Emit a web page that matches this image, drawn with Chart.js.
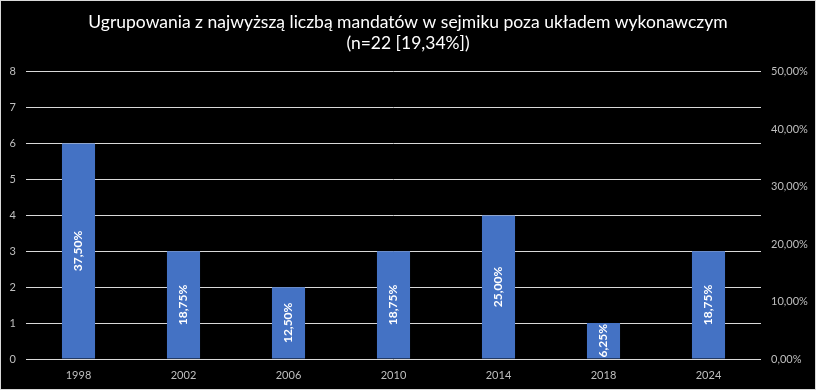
<!DOCTYPE html>
<html>
<head>
<meta charset="utf-8">
<script src="https://cdn.jsdelivr.net/npm/chart.js@4"></script>
<style>
html,body{margin:0;padding:0;background:#000;}
#wrap{width:816px;height:390px;position:relative;}
canvas{display:block;}
</style>
</head>
<body>
<div id="wrap"><canvas id="c" width="816" height="390"></canvas></div>
<script>
const categories = ["1998","2002","2006","2010","2014","2018","2024"];
const seats = [6,3,2,3,4,1,3];
const shareLabels = ["37,50%","18,75%","12,50%","18,75%","25,00%","6,25%","18,75%"];
const leftTicks = [0,1,2,3,4,5,6,7,8];
const rightTicks = ["0,00%","10,00%","20,00%","30,00%","40,00%","50,00%"];
const titleLines = ["Ugrupowania z najwyższą liczbą mandatów w sejmiku poza układem wykonawczym","(n=22 [19,34%])"];

const FONT = "Lato, 'Open Sans', sans-serif";

const borderPlugin = {
  id: 'borderBg',
  beforeDraw(chart){
    const ctx = chart.ctx;
    ctx.save();
    ctx.fillStyle = '#000';
    ctx.fillRect(0,0,chart.width,chart.height);
    ctx.restore();
  },
  afterDraw(chart){
    const ctx = chart.ctx;
    ctx.save();
    ctx.strokeStyle = '#d9d9d9';
    ctx.lineWidth = 1;
    ctx.strokeRect(0.5,0.5,chart.width-1,chart.height-1);
    ctx.restore();
  }
};

const labelPlugin = {
  id: 'barLabels',
  afterDatasetsDraw(chart){
    const ctx = chart.ctx;
    const meta = chart.getDatasetMeta(0);
    ctx.save();
    ctx.fillStyle = '#ffffff';
    ctx.font = "bold 12px " + FONT;
    ctx.textAlign = 'center';
    ctx.textBaseline = 'middle';
    meta.data.forEach((bar, i) => {
      const cx = bar.x;
      const cy = (bar.y + bar.base) / 2;
      ctx.save();
      ctx.translate(cx, cy);
      ctx.rotate(-Math.PI/2);
      ctx.fillText(shareLabels[i], 0, 0);
      ctx.restore();
    });
    ctx.restore();
  }
};

new Chart(document.getElementById('c'), {
  type: 'bar',
  data: {
    labels: categories,
    datasets: [{
      data: seats,
      backgroundColor: '#4472C4',
      borderWidth: 0,
      categoryPercentage: 1,
      barPercentage: 0.315,
      yAxisID: 'y'
    }]
  },
  options: {
    responsive: false,
    animation: false,
    devicePixelRatio: 1,
    layout: { padding: { top: 0, bottom: 0, left: 0, right: 0 } },
    plugins: {
      legend: { display: false },
      tooltip: { enabled: false },
      title: {
        display: true,
        text: titleLines,
        color: '#ffffff',
        font: { family: FONT, size: 17.5, weight: 'normal', lineHeight: 1.25 },
        padding: { top: 11, bottom: 17 }
      }
    },
    scales: {
      x: {
        grid: { display: false, drawTicks: false },
        border: { display: false },
        ticks: { color: '#bfbfbf', font: { family: FONT, size: 11 }, padding: 10 },
        afterFit(axis){ axis.height = 31; }
      },
      y: {
        position: 'left',
        min: 0, max: 8,
        afterBuildTicks(axis){ axis.ticks = leftTicks.map(v => ({value: v})); },
        grid: { color: '#d9d9d9', lineWidth: 1, drawTicks: false },
        border: { display: false },
        ticks: { color: '#bfbfbf', font: { family: FONT, size: 11 }, padding: 10 },
        afterFit(axis){ axis.width = 26; }
      },
      y2: {
        position: 'right',
        min: 0, max: 0.5,
        afterBuildTicks(axis){ axis.ticks = rightTicks.map((t, i) => ({value: i * 0.1})); },
        grid: { display: false, drawTicks: false },
        border: { display: false },
        ticks: {
          color: '#bfbfbf', font: { family: FONT, size: 11 }, padding: 10,
          callback(value, index){ return rightTicks[index]; }
        },
        afterFit(axis){ axis.width = 55; }
      }
    }
  },
  plugins: [borderPlugin, labelPlugin]
});
</script>
</body>
</html>
